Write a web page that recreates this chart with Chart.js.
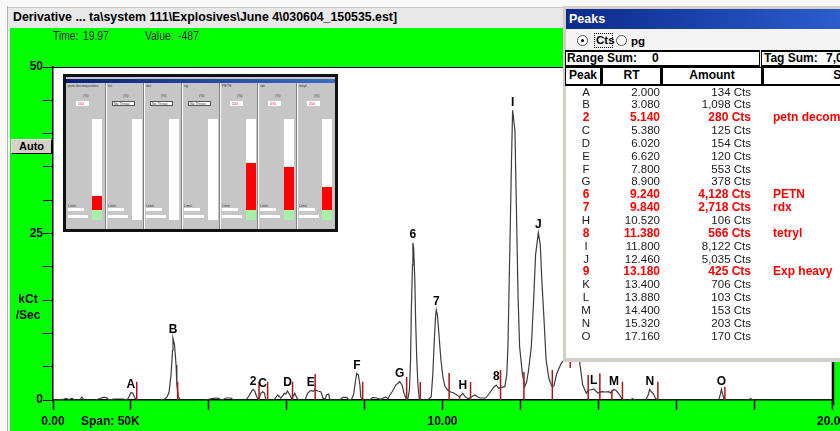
<!DOCTYPE html>
<html>
<head>
<meta charset="utf-8">
<script src="https://cdn.jsdelivr.net/npm/chart.js@4.4.0/dist/chart.umd.min.js"></script>
<style>
html,body{margin:0;padding:0;}
body{width:840px;height:431px;overflow:hidden;position:relative;background:#f8f8f8;font-family:"Liberation Sans",Arial,sans-serif;color:#000;}
.a{position:absolute;white-space:nowrap;}
#edge{left:7px;top:6px;width:1px;height:425px;background:#b4b4b4;}
#title{left:8px;top:7px;width:560px;height:20px;background:#e8e8e8;border-top:1px solid #c4c4c4;}
#titleText{left:13px;top:10px;font-weight:bold;font-size:12.5px;line-height:15px;transform-origin:0 0;}
#green{left:10px;top:28px;width:830px;height:403px;background:#00ff00;}
#cv{left:0;top:28px;}
.small{font-size:12px;line-height:13px;color:#222;transform-origin:0 0;transform:scaleX(0.86);}
.bold12{font-weight:bold;font-size:12px;line-height:14px;}
#auto{left:11px;top:139px;width:41px;height:15px;box-sizing:border-box;background:#d4d0c8;border-top:1px solid #fff;border-left:1px solid #fff;border-right:1px solid #000;border-bottom:1px solid #000;font-weight:bold;font-size:11px;line-height:13px;text-align:center;}
#inset{left:63px;top:74px;width:275px;height:158px;box-sizing:border-box;border:3px solid #111;background:#c6c6c6;overflow:hidden;}
.tiny{position:absolute;font-size:3.5px;line-height:4px;color:#333;white-space:nowrap;}
#pk{left:563px;top:6px;width:290px;height:356px;background:#d4d0c8;}
#pkbar{left:566px;top:9px;width:285px;height:20px;background:linear-gradient(to right,#0c2a8c,#2c5fd0);}
#pkclient{left:566px;top:29px;width:285px;height:329px;background:#f4f4f4;}
#pktable{left:566px;top:86px;width:285px;height:272px;background:#fff;}
.cell{position:absolute;box-sizing:border-box;border:1px solid #000;border-right-width:2px;border-bottom-width:2px;background:#fff;font-weight:bold;font-size:12px;line-height:15px;}
.row{position:absolute;height:13px;font-size:11.5px;line-height:13px;color:#1a1a1a;white-space:nowrap;}
.row.tag{color:#ff0000;font-weight:bold;font-size:12px;}
.row span{position:absolute;top:0;}
</style>
</head>
<body>
<div id="edge" class="a"></div>
<div id="title" class="a"></div>
<div id="titleText" class="a">Derivative ... ta\system 111\Explosives\June 4\030604_150535.est]</div>
<div id="green" class="a"></div>
<canvas id="cv" class="a" width="860" height="403"></canvas>

<div class="a small" style="left:53px;top:30px;">Time:</div>
<div class="a small" style="left:83px;top:30px;">19.97</div>
<div class="a small" style="left:145px;top:30px;">Value:</div>
<div class="a small" style="left:178px;top:30px;">-487</div>
<div id="auto" class="a">Auto</div>
<div class="a bold12" style="left:8px;top:291px;width:40px;text-align:center;line-height:16px;">kCt<br>/Sec</div>
<div class="a bold12" style="left:81px;top:414px;">Span: 50K</div>

<div id="inset" class="a"></div>

<div id="pk" class="a"></div>
<div id="pkbar" class="a"></div>
<div class="a" style="left:569px;top:12px;color:#fff;font-weight:bold;font-size:12.5px;line-height:15px;">Peaks</div>
<div id="pkclient" class="a"></div>
<div class="a" style="left:577px;top:35px;width:11px;height:11px;box-sizing:border-box;border:1px solid #555;border-radius:50%;background:#fff;"></div>
<div class="a" style="left:581px;top:39px;width:3px;height:3px;background:#000;border-radius:50%;"></div>
<div class="a bold12" style="left:594px;top:33px;width:19px;height:15px;box-sizing:border-box;border:1px dotted #000;font-size:11.5px;line-height:13px;padding-left:1px;">Cts</div>
<div class="a" style="left:616px;top:35px;width:11px;height:11px;box-sizing:border-box;border:1px solid #555;border-radius:50%;background:#fff;"></div>
<div class="a bold12" style="left:631px;top:34px;font-size:11.5px;">pg</div>
<div class="cell" style="left:565px;top:50px;width:195px;height:17px;border-top-width:2px;border-right-width:1px;"></div>
<div class="a bold12" style="left:567px;top:51px;">Range Sum:</div>
<div class="a bold12" style="left:652px;top:51px;">0</div>
<div class="cell" style="left:761px;top:50px;width:100px;height:17px;border-top-width:2px;"></div>
<div class="a bold12" style="left:764px;top:51px;">Tag Sum:</div>
<div class="a bold12" style="left:826px;top:51px;">7,0</div>
<div class="cell" style="left:565px;top:67px;width:37px;height:19px;text-align:center;">Peak</div>
<div class="cell" style="left:602px;top:67px;width:60px;height:19px;text-align:center;">RT</div>
<div class="cell" style="left:662px;top:67px;width:101px;height:19px;text-align:center;">Amount</div>
<div class="cell" style="left:763px;top:67px;width:202px;height:19px;text-align:center;">Substance</div>
<div id="pktable" class="a"></div>
<div id="rows"></div>

<script>
// chromatogram trace: time (min) and signal (kCt/Sec)
var traceTime = [0,0.26,0.33,0.41,0.49,0.56,0.69,0.74,0.80,1.08,1.21,1.28,1.36,1.44,1.57,1.80,1.90,1.95,2.00,2.05,2.10,2.16,
  2.75,2.87,2.93,2.98,3.03,3.07,3.08,3.12,3.16,3.18,3.22,3.28,3.90,4.11,4.23,4.34,4.44,4.57,4.64,
  4.95,5.03,5.11,5.14,5.18,5.23,5.28,5.34,5.38,5.43,5.46,5.51,5.67,5.77,5.85,5.94,5.98,6.02,6.08,6.13,6.21,6.26,6.31,
  6.47,6.54,6.62,6.67,6.73,6.80,6.88,6.93,6.98,7.03,7.08,7.10,7.16,7.36,7.44,7.54,7.60,
  7.67,7.72,7.77,7.80,7.84,7.88,7.90,7.96,8.13,8.21,8.31,8.42,8.54,8.60,8.65,8.72,8.80,8.90,8.96,9.01,9.06,9.11,
  9.15,9.18,9.20,9.23,9.24,9.26,9.29,9.31,9.34,9.37,9.40,9.44,9.62,9.71,9.75,9.79,9.82,9.84,9.87,9.91,9.96,
  10.01,10.06,10.13,10.21,10.29,10.37,10.44,10.52,10.59,10.66,10.75,10.83,10.91,10.96,11.11,11.21,11.32,11.38,11.44,11.52,11.60,
  11.65,11.68,11.73,11.77,11.80,11.82,11.86,11.90,11.94,11.98,12.05,12.11,12.16,12.21,12.28,12.34,12.39,12.46,12.51,12.55,12.60,12.66,12.73,12.80,12.86,
  12.93,13.05,13.18,13.28,13.40,13.52,13.60,13.69,13.75,13.81,13.88,13.93,13.99,14.09,14.19,14.27,14.32,14.40,14.47,14.55,14.61,14.70,
  14.81,14.88,14.96,15.22,15.28,15.32,15.37,15.42,15.46,15.52,17.09,17.13,17.16,17.19,17.23,17.83,17.91,17.99,20];
var traceValue = [0,0.08,0.23,0.08,0.23,0,0,0.45,0,0,0.2,0.4,0.4,0,0.15,0.15,0,0.45,1.1,1.05,0.3,0,
  0,0.15,0.45,1.2,3.75,7.5,9.3,8.3,5.25,2.25,0.45,0,0,0.25,0.3,0,0.3,0.3,0,
  0,0.6,1.4,1.6,1.35,0.45,0.15,1.05,1.25,1.05,0.15,0,0,0.75,0.3,1.0,0.9,1.35,0.75,0.2,1.0,0.3,0,
  0,1.05,1.45,1.3,1.5,1.35,1.2,0.3,0.1,0.8,0.9,0.15,0,0,0.4,0.4,0,
  0.15,0.9,3.0,4.0,3.75,2.25,0.45,0,0,0.4,0.3,0.1,0.45,0.2,0.75,1.35,2.25,2.75,2.25,1.05,0.3,0.15,
  1.5,6.0,13.5,20.3,23.6,22.8,18,12,6,2.25,0.3,0,0,0.45,3.75,9,12.3,13.5,12.8,9.75,6,
  3.45,2.1,1.5,1.2,1.05,0.75,0.5,1.0,0.45,0.2,0.5,0.75,0.45,0.3,0.3,1.05,1.95,2.25,1.75,1.9,2.0,
  3.75,8.0,23,35.5,43.5,42.5,40.5,28,15.5,8,4,2,2.7,4.5,8,15,21.8,25.1,23.3,18,12.8,6,3.3,2.1,2.1,
  3.9,5.55,6.3,7.0,9,5.7,2.25,1.05,1.5,1.5,1.65,1.4,1.05,1.25,1.2,1.25,1.05,1.6,1.35,0.75,0.1,0,
  0,0.2,0,0,0.75,1.6,1.2,0.9,0.3,0,0,0.75,1.6,0.9,0,0,0.2,0,0];

// peak table
var peakNames = ['A','B','2','C','D','E','F','G','6','7','H','8','I','J','9','K','L','M','N','O'];
var peakRT = [2.000,3.080,5.140,5.380,6.020,6.620,7.800,8.900,9.240,9.840,10.520,11.380,11.800,12.460,13.180,13.400,13.880,14.400,15.320,17.160];
var peakAmount = [134,1098,280,125,154,120,553,378,4128,2718,106,566,8122,5035,425,706,103,153,203,170];
var peakSubstance = ['','','petn decomp','','','','','','PETN','rdx','','tetryl','','','Exp heavy','','','','',''];
// apex height of each labelled peak (kCt/Sec)
var peakHeight = [1.1,9.3,1.6,1.25,1.35,1.45,4.0,2.75,23.6,13.5,1.0,2.25,43.5,25.1,6.3,9,1.65,1.6,1.6,1.6];

// peak start/end markers (red)
var markerTime = [2.15,3.20,5.29,5.51,6.15,6.73,7.95,9.08,9.43,10.17,10.44,10.72,11.49,12.09,12.82,13.28,13.74,14.04,14.35,14.62,15.53,17.25];
var markerBase = [0,0,0,0,0,0,0,0,0,0,0,0,0,0,0,4.8,0,0,0,0,0,0];
var markerTop = [2.75,2.75,2.75,2.75,2.75,3.9,2.75,3.45,2.7,4.05,0.5,2.7,4.5,4.2,4.5,8,3.75,4.0,1.5,2.75,2.75,2.0];

// x / y axis
var xMin = 0, xMax = 20, xStep = 2, xLabelEvery = 10;
var yMin = 0, yMax = 50, yStep = 5, yLabelEvery = 25;

// detector display inset: fill level of each channel bar (0..1), -1 = no bar colour
var insetNames = ['petn decomposition','tnt','dnt','ng','PETN','rdx','tetryl'];
var insetLevel = [0.15,-1,-1,-1,0.52,0.47,0.25];

var tracePts = traceTime.map(function(t, i){ return {x: t, y: traceValue[i]}; });
var markerPts = [];
markerTime.forEach(function(t, i){
  markerPts.push({x: t, y: markerBase[i]});
  markerPts.push({x: t, y: markerTop[i]});
  markerPts.push({x: t, y: null});
});

Chart.defaults.font.family = '"Liberation Sans", Arial, sans-serif';

var plotFrame = {
  id: 'plotFrame',
  beforeDraw: function(chart){
    var a = chart.chartArea, c = chart.ctx;
    c.save();
    c.fillStyle = '#fff';
    c.fillRect(a.left, a.top, a.right - a.left, a.bottom - a.top);
    c.restore();
  },
  afterDraw: function(chart){
    var a = chart.chartArea, c = chart.ctx;
    c.save();
    c.strokeStyle = '#000';
    c.lineWidth = 1;
    c.beginPath();
    c.moveTo(a.left, a.top + 0.5);
    c.lineTo(a.right, a.top + 0.5);
    c.stroke();
    c.lineWidth = 2.5;
    c.beginPath();
    c.moveTo(a.right + 1, a.top);
    c.lineTo(a.right + 1, a.bottom + 5);
    c.stroke();
    c.restore();
  }
};

var peakLabels = {
  id: 'peakLabels',
  afterDatasetsDraw: function(chart){
    var c = chart.ctx, xs = chart.scales.x, ys = chart.scales.y;
    c.save();
    c.font = 'bold 12px "Liberation Sans", Arial, sans-serif';
    c.fillStyle = '#000';
    c.textAlign = 'center';
    c.textBaseline = 'bottom';
    peakNames.forEach(function(n, i){
      c.fillText(n, xs.getPixelForValue(peakRT[i]), ys.getPixelForValue(peakHeight[i]) - 2);
    });
    c.restore();
  }
};

var tickFont = {family: '"Liberation Sans", Arial, sans-serif', size: 12, weight: 'bold'};

new Chart(document.getElementById('cv'), {
  type: 'line',
  data: {
    datasets: [{
      data: markerPts,
      borderColor: '#a81818',
      borderWidth: 1.5,
      pointRadius: 0,
      spanGaps: false
    }, {
      data: tracePts,
      borderColor: '#3c3c3c',
      borderWidth: 1.2,
      pointRadius: 0,
      tension: 0
    }]
  },
  options: {
    responsive: false,
    animation: false,
    devicePixelRatio: 1,
    layout: {padding: {top: 39, right: 28, left: 0, bottom: 0}},
    plugins: {legend: {display: false}, tooltip: {enabled: false}},
    scales: {
      x: {
        type: 'linear', min: xMin, max: xMax,
        ticks: {
          stepSize: xStep, autoSkip: false, maxRotation: 0, padding: 4,
          color: '#000', font: tickFont,
          callback: function(v){ return v % xLabelEvery === 0 ? v.toFixed(2) : ''; }
        },
        grid: {drawOnChartArea: false, color: '#000', tickLength: 10, tickWidth: 1.5},
        border: {color: '#000', width: 1.5},
        afterFit: function(s){ s.height = 31; }
      },
      y: {
        min: yMin, max: yMax,
        ticks: {
          stepSize: yStep, padding: 0, color: '#000', font: tickFont,
          callback: function(v){ return v % yLabelEvery === 0 ? v : ''; }
        },
        grid: {drawOnChartArea: false, color: '#000', tickLength: 10, tickWidth: 1},
        border: {color: '#000', width: 1.5},
        afterFit: function(s){ s.width = 53; }
      }
    }
  },
  plugins: [plotFrame, peakLabels]
});

// title squeezed like the original narrow system font
var tt = document.getElementById('titleText');
tt.style.transform = 'scaleX(' + (384 / tt.getBoundingClientRect().width) + ')';

// peak table rows
var rows = document.getElementById('rows');
function fmtAmount(n){ return n.toString().replace(/\B(?=(\d{3})+(?!\d))/g, ',') + ' Cts'; }
peakNames.forEach(function(n, i){
  var r = document.createElement('div');
  r.className = 'row' + (peakSubstance[i] ? ' tag' : '');
  r.style.left = '0px';
  r.style.top = (85.5 + i * 12.85) + 'px';
  r.style.width = '840px';
  r.innerHTML = '<span style="left:566px;width:40px;text-align:center">' + n + '</span>' +
    '<span style="left:590px;width:70px;text-align:right">' + peakRT[i].toFixed(3) + '</span>' +
    '<span style="left:662px;width:89px;text-align:right">' + fmtAmount(peakAmount[i]) + '</span>' +
    '<span style="left:773px">' + peakSubstance[i] + '</span>';
  rows.appendChild(r);
});

// detector display inset
var inset = document.getElementById('inset');
function box(l, t, w, h, css, html){
  var d = document.createElement('div');
  d.style.cssText = 'position:absolute;left:' + l + 'px;top:' + t + 'px;width:' + w + 'px;height:' + h + 'px;' + (css || '');
  if (html) d.innerHTML = html;
  inset.appendChild(d);
  return d;
}
box(0, 2, 269, 4, 'background:linear-gradient(to right,#0a1e78,#3a6ec8);');
var colStart = [-1, 39, 77, 115, 153, 191, 230];
var barLeft = [26, 66, 103, 142, 180, 218, 256];
insetNames.forEach(function(n, i){
  var x0 = colStart[i];
  if (i > 0) { box(x0, 6, 1, 146, 'background:#808080;'); box(x0 + 1, 6, 1, 146, 'background:#fff;'); }
  var lb = box(x0 + 3, 7, 35, 4, '', n); lb.className = 'tiny';
  var pc = box(x0 + 18, 17, 12, 4, '', '(%)'); pc.className = 'tiny';
  if (insetLevel[i] < 0) {
    box(x0 + 7, 24, 23, 5, 'background:#fff;border:1px solid #555;box-sizing:border-box;');
    var nt = box(x0 + 9, 24.5, 20, 4, '', 'No Threat'); nt.className = 'tiny';
    box(barLeft[i], 42, 9.5, 101, 'background:#fff;');
  } else {
    box(x0 + 11, 24, 13, 5, 'background:#fff;');
    var v = box(x0 + 13, 24.5, 10, 4, 'color:#e00;', Math.round(insetLevel[i] * 1000) + ''); v.className = 'tiny';
    box(barLeft[i], 42, 9.5, 91, 'background:#fff;');
    var h = Math.round(91 * insetLevel[i]);
    box(barLeft[i], 133 - h, 9.5, h, 'background:#f00;');
    box(barLeft[i], 133, 9.5, 10, 'background:#a8f0a8;');
  }
  var lt = box(x0 + 3, 127, 16, 4, '', 'Limit:'); lt.className = 'tiny';
  box(x0 + 3, 131, 16, 3, 'background:#fff;');
  box(x0 + 3, 138, 20, 3, 'background:#fff;');
});
</script>
</body>
</html>
